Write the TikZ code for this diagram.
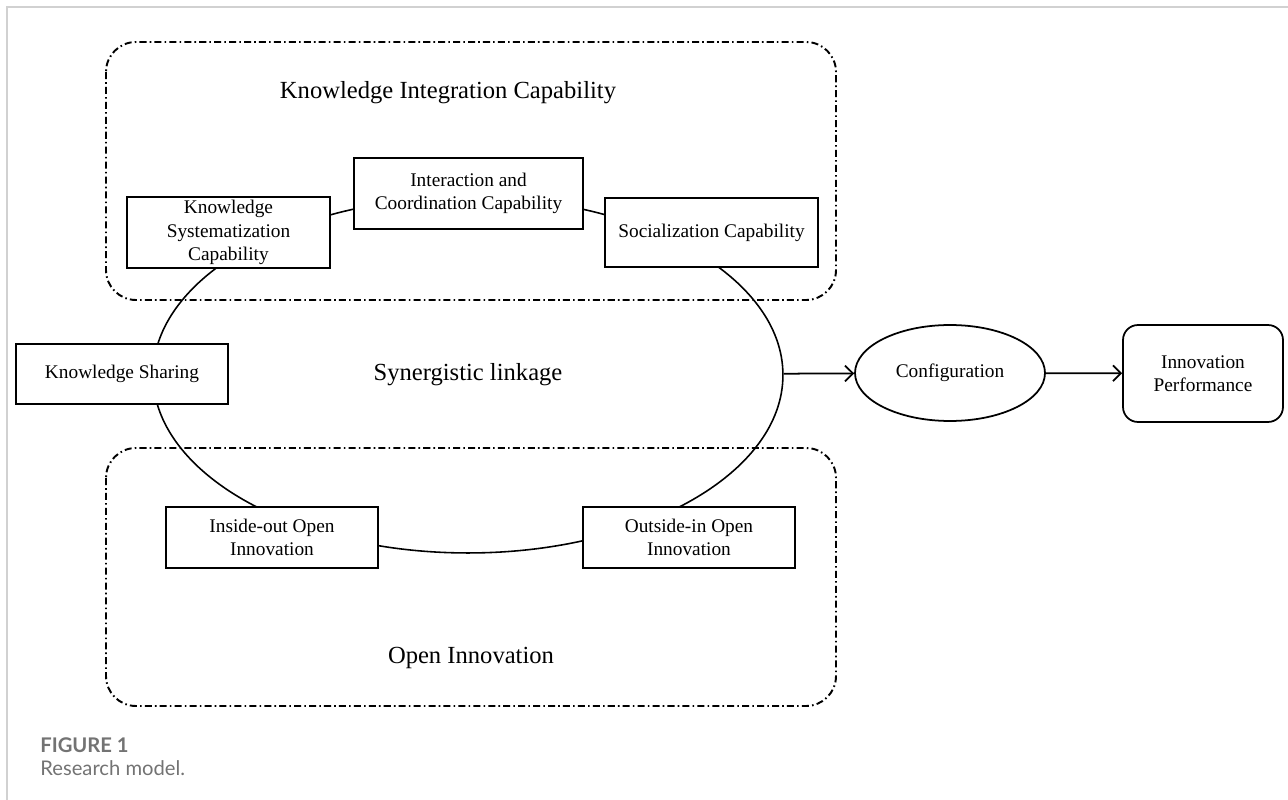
\documentclass[tikz,border=0pt]{standalone}
\usepackage{fontspec}
\setmainfont{Liberation Serif}
\newfontfamily\capfont{Lato}
\usetikzlibrary{shapes.geometric, arrows.meta}

\tikzset{
  capbox/.style={draw, rectangle, fill=white, line width=1pt, align=center, inner sep=2pt,
    font=\fontsize{11}{13.2}\selectfont},
  groupbox/.style={line width=1.1pt, rounded corners=0.6cm,
    dash pattern=on 4pt off 1.8pt on 0.9pt off 1.8pt},
  bigtext/.style={font=\fontsize{14}{16}\selectfont},
  >={Straight Barb[length=4.5pt, width=9pt]},
}

\begin{document}
\begin{tikzpicture}[x=0.02cm, y=-0.02cm]
    \useasboundingbox (0,0) rectangle (1288,800);
    \draw[black!18, line width=1.2pt] (7,800) -- (7,7) -- (1288,7);

    % the two groups
    \draw[groupbox] (106,42) rectangle (836,300);
    \draw[groupbox] (106,448) rectangle (836,706);
    \node (kic) [bigtext] at (448,93) {Knowledge Integration Capability};
    \node (oi) [bigtext] at (471,658) {Open Innovation};

    % synergy loop through all capabilities
    \node (link) [draw, ellipse, line width=0.9pt, minimum width=12.6cm, minimum height=7.12cm, bigtext] at (468,375) {Synergistic linkage};

    \node (ksys) [capbox, minimum width=4.06cm, minimum height=1.38cm] at (228.5,232.5) {Knowledge\\Systematization\\Capability};
    \node (inter) [capbox, minimum width=4.58cm, minimum height=1.42cm] at (468.5,193.5) {Interaction and\\Coordination Capability};
    \node (social) [capbox, minimum width=4.26cm, minimum height=1.38cm] at (711.5,232.5) {Socialization Capability};
    \node (share) [capbox, minimum width=4.24cm, minimum height=1.2cm] at (122,374) {Knowledge Sharing};
    \node (inout) [capbox, minimum width=4.24cm, minimum height=1.22cm] at (272,537.5) {Inside-out Open\\Innovation};
    \node (outin) [capbox, minimum width=4.24cm, minimum height=1.22cm] at (689,537.5) {Outside-in Open\\Innovation};

    % outcome chain
    \node (config) [draw, ellipse, line width=1pt, minimum width=3.8cm, minimum height=1.92cm, font=\fontsize{11}{13}\selectfont] at (950,373) {Configuration};
    \node (perf) [capbox, rounded corners=0.3cm, minimum width=3.2cm, minimum height=1.94cm] at (1203,373.5) {Innovation\\Performance};

    \draw[->, line width=1pt] (link) -- (config);
    \draw[->, line width=1pt] (config) -- (perf);

    % caption
    \node (fig) [anchor=base west, text=black!55, font=\capfont\bfseries\fontsize{11.5}{13}\selectfont, inner sep=0pt] at (40,752) {FIGURE 1};
    \node (cap) [anchor=base west, text=black!55, font=\capfont\fontsize{11.5}{13}\selectfont, inner sep=0pt] at (40,775) {Research model.};
\end{tikzpicture}
\end{document}
